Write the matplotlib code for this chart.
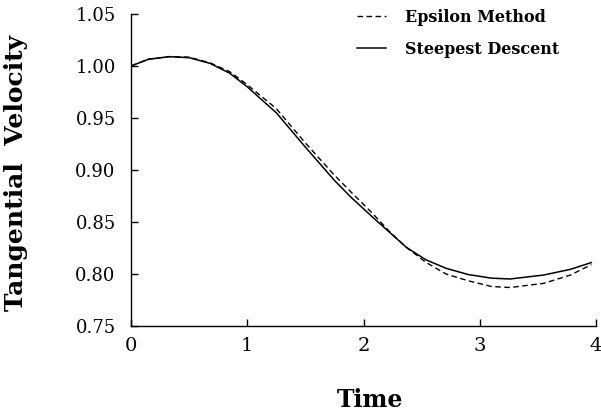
import matplotlib
matplotlib.use("Agg")
import matplotlib.pyplot as plt

# Data
time = [0.0, 0.15, 0.33, 0.5, 0.68, 0.85, 1.0, 1.25, 1.5, 1.75, 1.9,
        2.08, 2.23, 2.37, 2.54, 2.71, 2.9, 3.1, 3.26, 3.55, 3.78, 3.96]
epsilon_method = [1.000, 1.0065, 1.009, 1.0085, 1.003, 0.9945, 0.982, 0.959, 0.926, 0.895, 0.878,
                  0.858, 0.840, 0.8255, 0.811, 0.800, 0.7935, 0.788, 0.787, 0.791, 0.799, 0.809]
steepest_descent = [1.000, 1.0065, 1.009, 1.008, 1.0025, 0.993, 0.980, 0.955, 0.922, 0.890, 0.873,
                    0.8545, 0.8395, 0.8255, 0.8135, 0.8055, 0.7995, 0.796, 0.7952, 0.799, 0.8045, 0.811]

x_ticks = [0, 1, 2, 3, 4]
y_ticks = [0.75, 0.80, 0.85, 0.90, 0.95, 1.00, 1.05]
series_labels = ["Epsilon Method", "Steepest Descent"]

plt.rcParams['font.family'] = ['DejaVu Serif']

fig = plt.figure(figsize=(6.01, 4.12), dpi=100)
ax = fig.add_axes([131/601, 1 - 326/412, 465/601, 312/412])

ax.plot(time, epsilon_method, color='black', lw=1.0, linestyle=(0, (4, 2.5)),
        label=series_labels[0])
ax.plot(time, steepest_descent, color='black', lw=1.1, linestyle='-',
        label=series_labels[1])

ax.set_xlim(0, 4)
ax.set_ylim(0.75, 1.05)
ax.set_xticks(x_ticks)
ax.set_xticklabels([str(v) for v in x_ticks], fontsize=14)
ax.set_yticks(y_ticks)
ax.set_yticklabels([f"{v:.2f}" for v in y_ticks], fontsize=13)

for s in ['top', 'right']:
    ax.spines[s].set_visible(False)
for s in ['left', 'bottom']:
    ax.spines[s].set_linewidth(1.0)

ax.tick_params(axis='y', direction='in', length=5, width=1.0, pad=11)
ax.tick_params(axis='x', direction='in', length=5, width=1.0, pad=8)

ax.set_xlabel("Time", fontsize=17, fontweight='bold')
ax.xaxis.set_label_coords(0.513, -0.2)
ax.xaxis.label.set_va('top')

ax.set_ylabel("Tangential  Velocity", fontsize=18, fontweight='bold')
ax.yaxis.set_label_coords(-0.222, 0.49)

leg = ax.legend(loc='upper left', bbox_to_anchor=(0.486, 1.017), frameon=False,
                prop={'family': 'DejaVu Serif', 'weight': 'bold', 'size': 11.5},
                handlelength=1.8, handletextpad=1.2, labelspacing=0.95,
                borderpad=0, borderaxespad=0)

fig.savefig("out.png", dpi=100)
